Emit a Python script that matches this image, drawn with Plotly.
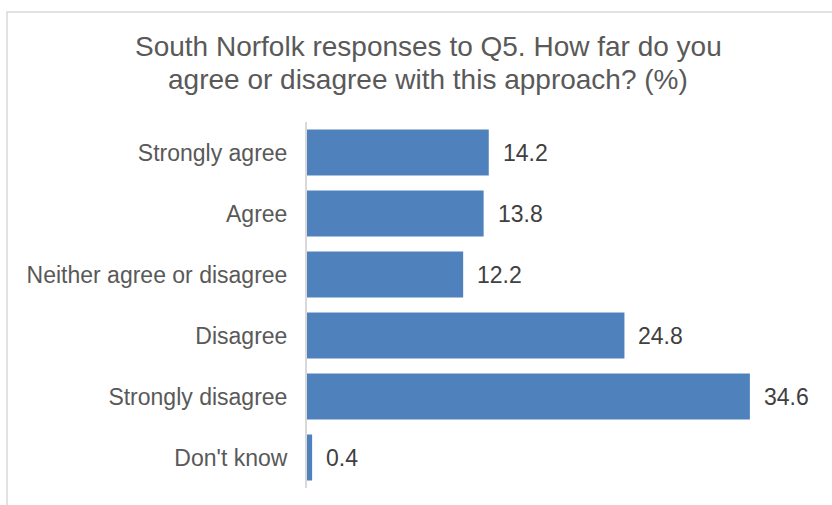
import plotly.graph_objects as go

# Survey responses (percent of respondents)
categories = [
    "Strongly agree",
    "Agree",
    "Neither agree or disagree",
    "Disagree",
    "Strongly disagree",
    "Don't know",
]
percentages = [14.2, 13.8, 12.2, 24.8, 34.6, 0.4]

title_lines = [
    "South Norfolk responses to Q5. How far do you",
    "agree or disagree with this approach? (%)",
]

W, H = 832, 505
M_L, M_R, M_T, M_B = 307, 13, 122, 17
PLOT_W = W - M_L - M_R
PLOT_H = H - M_T - M_B
FONT = "Liberation Sans, Arial, sans-serif"
BAR_COLOR = "#4F81BD"


def px_x(px):
    """Pixel column -> paper x."""
    return (px - M_L) / PLOT_W


def px_y(py):
    """Pixel row (from top) -> paper y."""
    return (H - M_B - py) / PLOT_H


fig = go.Figure(
    go.Bar(
        x=percentages,
        y=categories,
        orientation="h",
        marker=dict(color=BAR_COLOR, line=dict(width=0)),
        hoverinfo="skip",
    )
)

# value labels to the right of each bar
annotations = [
    dict(
        x=v, y=c, xref="x", yref="y",
        text=f"{v:.1f}", showarrow=False,
        xanchor="left", yanchor="middle", xshift=12,
        font=dict(family=FONT, size=23, color="#404040"),
    )
    for c, v in zip(categories, percentages)
]

# two-line chart title
for line, py in zip(title_lines, [46, 79]):
    annotations.append(
        dict(
            x=px_x(428), y=px_y(py), xref="paper", yref="paper",
            text=line, showarrow=False,
            xanchor="center", yanchor="middle",
            font=dict(family=FONT, size=28, color="#595959"),
        )
    )

fig.update_layout(
    width=W,
    height=H,
    margin=dict(l=M_L, r=M_R, t=M_T, b=M_B, pad=0),
    paper_bgcolor="white",
    plot_bgcolor="white",
    showlegend=False,
    bargap=0.246,
    annotations=annotations,
    shapes=[
        # chart area border
        dict(
            type="rect", xref="paper", yref="paper",
            x0=px_x(7), x1=px_x(W + 20), y0=px_y(H + 20), y1=px_y(12),
            line=dict(color="#D9D9D9", width=1.5), fillcolor="rgba(0,0,0,0)",
            layer="below",
        )
    ],
    xaxis=dict(
        range=[0, 40],
        visible=False,
        showgrid=False,
        zeroline=False,
        fixedrange=True,
    ),
    yaxis=dict(
        autorange="reversed",
        showline=True,
        linecolor="#D9D9D9",
        linewidth=2,
        showgrid=False,
        ticks="",
        ticklabelstandoff=13,
        tickfont=dict(family=FONT, size=23, color="#595959"),
        fixedrange=True,
    ),
)

fig.write_html("out.html")
